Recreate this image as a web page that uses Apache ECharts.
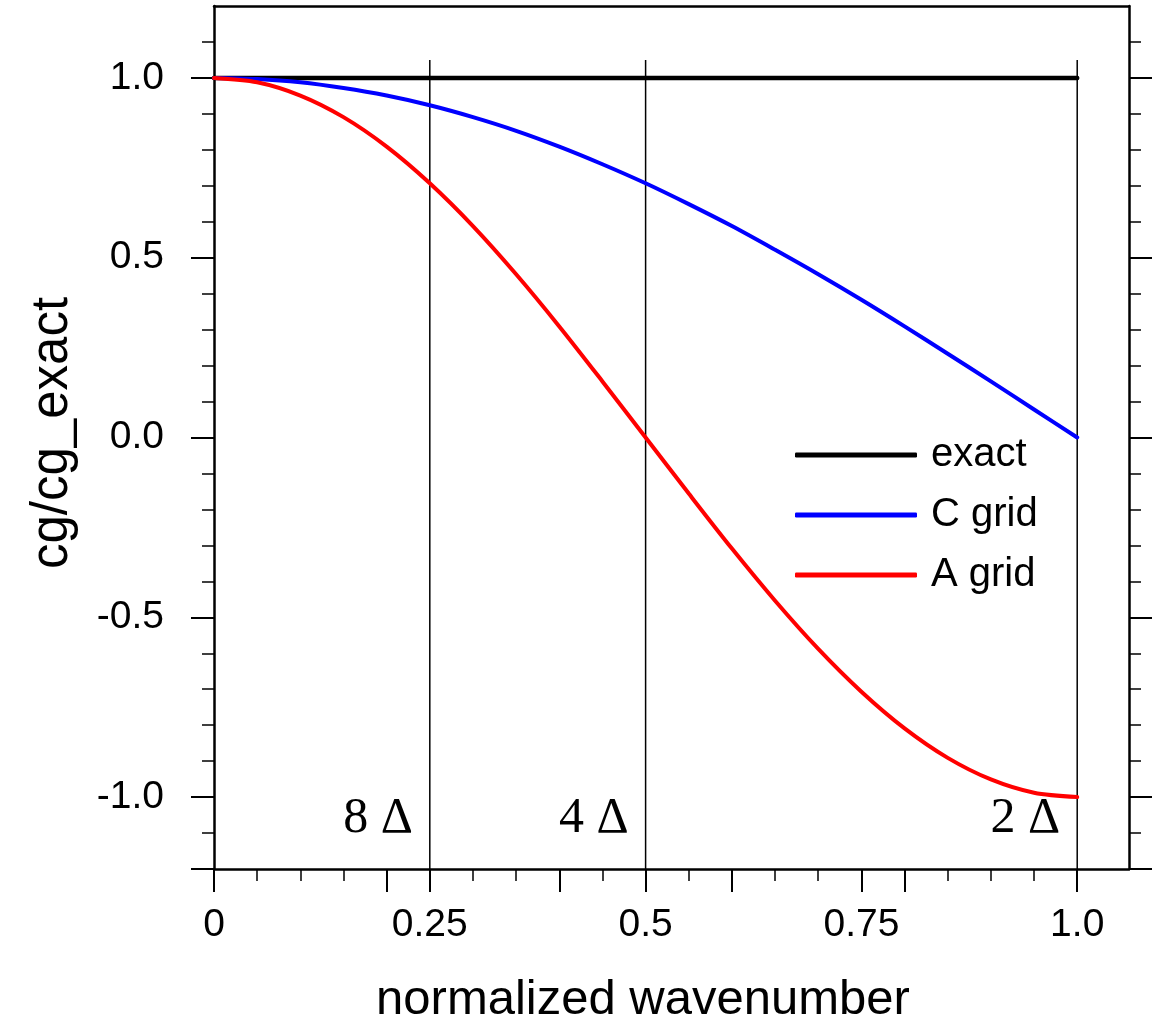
<!DOCTYPE html>
<html>
<head>
<meta charset="utf-8">
<title>Group velocity ratio</title>
<script src="https://cdn.jsdelivr.net/npm/echarts@6/dist/echarts.min.js"></script>
<style>
  html, body { margin: 0; padding: 0; background: #ffffff; }
  #chart { width: 1165px; height: 1026px; }
</style>
</head>
<body>
<div id="chart"></div>
<script>
// normalized wavenumber samples
const wavenumber = [0, 0.05, 0.10, 0.15, 0.20, 0.25, 0.30, 0.35, 0.40, 0.45, 0.50,
                    0.55, 0.60, 0.65, 0.70, 0.75, 0.80, 0.85, 0.90, 0.95, 1.00];
// cg / cg_exact for each scheme
const exactRatio = [1, 1, 1, 1, 1, 1, 1, 1, 1, 1, 1, 1, 1, 1, 1, 1, 1, 1, 1, 1, 1];
const cGridRatio = [1.000, 0.997, 0.988, 0.972, 0.951, 0.924, 0.891, 0.853, 0.809, 0.760, 0.707,
                    0.649, 0.588, 0.522, 0.454, 0.383, 0.309, 0.233, 0.156, 0.078, 0.000];
const aGridRatio = [1.000, 0.988, 0.951, 0.891, 0.809, 0.707, 0.588, 0.454, 0.309, 0.156, 0.000,
                    -0.156, -0.309, -0.454, -0.588, -0.707, -0.809, -0.891, -0.951, -0.988, -1.000];

const seriesNames = ['exact', 'C grid', 'A grid'];

// axis ticks and labels
const xTickValues = [0, 0.25, 0.5, 0.75, 1.0];
const xTickText = ['0', '0.25', '0.5', '0.75', '1.0'];
const xMajorTicks = [0, 0.2, 0.25, 0.4, 0.5, 0.6, 0.75, 0.8, 1.0];
const xMinorTicks = [0.05, 0.1, 0.15, 0.3, 0.35, 0.45, 0.55, 0.65, 0.7, 0.85, 0.9, 0.95];
const yTickValues = [-1.0, -0.5, 0.0, 0.5, 1.0];
const yMajorTicks = [-1.2, -1.0, -0.5, 0.0, 0.5, 1.0];
const yMinorTicks = [-1.1, -0.9, -0.8, -0.7, -0.6, -0.4, -0.3, -0.2, -0.1,
                     0.1, 0.2, 0.3, 0.4, 0.6, 0.7, 0.8, 0.9, 1.1];

// grid-scale reference wavelengths
const markerX = [0.25, 0.5, 1.0];
const markerLabels = ['8 Δ', '4 Δ', '2 Δ'];
const markerTop = 1.05;
const markerLabelY = -1.06;

const xMin = 0, xMax = 1.06, yMin = -1.2, yMax = 1.2;

const sans = '"Liberation Sans", Arial, Helvetica, sans-serif';
const serif = '"Liberation Serif", "Times New Roman", serif';

function xAxisDef(opts) {
  return Object.assign({
    type: 'value', min: xMin, max: xMax, gridIndex: 0,
    splitLine: { show: false },
    axisLine: { show: false, onZero: false },
    axisTick: { show: false },
    axisLabel: { show: false }
  }, opts);
}
function yAxisDef(opts) {
  return Object.assign({
    type: 'value', min: yMin, max: yMax, gridIndex: 0,
    splitLine: { show: false },
    axisLine: { show: false, onZero: false },
    axisTick: { show: false },
    axisLabel: { show: false }
  }, opts);
}

const chart = echarts.init(document.getElementById('chart'), null, { renderer: 'canvas' });

const curveSeries = [
  { name: seriesNames[0], data: exactRatio, color: '#000000', width: 4.5 },
  { name: seriesNames[1], data: cGridRatio, color: '#0000ff', width: 4 },
  { name: seriesNames[2], data: aGridRatio, color: '#ff0000', width: 4 }
].map(s => ({
  type: 'line',
  name: s.name,
  xAxisIndex: 0, yAxisIndex: 0,
  data: wavenumber.map((x, i) => [x, s.data[i]]),
  smooth: 0.3,
  showSymbol: false,
  symbol: 'none',
  lineStyle: { color: s.color, width: s.width, cap: 'round' },
  itemStyle: { color: s.color },
  emphasis: { disabled: true },
  z: 3
}));

const markerLineSeries = markerX.map(x => ({
  type: 'line',
  name: 'marker',
  xAxisIndex: 0, yAxisIndex: 0,
  data: [[x, yMin], [x, markerTop]],
  showSymbol: false,
  symbol: 'none',
  silent: true,
  lineStyle: { color: '#000000', width: 1.5 },
  emphasis: { disabled: true },
  z: 2
}));

const markerLabelSeries = {
  type: 'scatter',
  name: 'markerLabels',
  xAxisIndex: 0, yAxisIndex: 0,
  symbolSize: 0,
  silent: true,
  itemStyle: { opacity: 1 },
  data: markerX.map((x, i) => [x, markerLabelY, markerLabels[i]]),
  label: {
    show: true,
    position: 'left',
    distance: 17,
    formatter: p => p.data[2],
    fontFamily: serif,
    fontSize: 50,
    color: '#000000',
    opacity: 1
  },
  emphasis: { disabled: true },
  z: 4
};

chart.setOption({
  backgroundColor: '#ffffff',
  animation: false,
  grid: {
    left: 214, top: 6, width: 915, height: 863,
    containLabel: false,
    outerBoundsMode: 'none',
    show: false
  },
  legend: {
    data: seriesNames,
    orient: 'vertical',
    left: 790,
    top: 430,
    icon: 'roundRect',
    itemWidth: 122,
    itemHeight: 5,
    itemGap: 20,
    selectedMode: false,
    textStyle: {
      fontFamily: sans,
      fontSize: 40,
      color: '#000000',
      lineHeight: 40,
      padding: [0, 0, 0, 9]
    }
  },
  xAxis: [
    // bottom axis: line, major ticks and labels
    xAxisDef({
      position: 'bottom',
      axisLine: { show: true, onZero: false, lineStyle: { color: '#000000', width: 2.5 } },
      axisTick: { show: true, inside: false, length: 23, customValues: xMajorTicks,
                  lineStyle: { color: '#000000', width: 2 } },
      axisLabel: {
        show: true, customValues: xTickValues, margin: 37,
        fontFamily: sans, fontSize: 39, color: '#000000',
        formatter: v => {
          const i = xTickValues.findIndex(t => Math.abs(t - v) < 1e-9);
          return i >= 0 ? xTickText[i] : '';
        }
      }
    }),
    // bottom axis minor ticks
    xAxisDef({
      position: 'bottom',
      axisTick: { show: true, inside: false, length: 12, customValues: xMinorTicks,
                  lineStyle: { color: '#000000', width: 1.5 } }
    }),
    // top border
    xAxisDef({
      position: 'top',
      axisLine: { show: true, onZero: false, lineStyle: { color: '#000000', width: 2.5 } }
    })
  ],
  yAxis: [
    // left axis: line, major ticks and labels
    yAxisDef({
      position: 'left',
      axisLine: { show: true, onZero: false, lineStyle: { color: '#000000', width: 2.5 } },
      axisTick: { show: true, inside: false, length: 23, customValues: yMajorTicks,
                  lineStyle: { color: '#000000', width: 2 } },
      axisLabel: {
        show: true, customValues: yTickValues, margin: 50,
        fontFamily: sans, fontSize: 39, color: '#000000',
        formatter: v => v.toFixed(1)
      }
    }),
    // left minor ticks
    yAxisDef({
      position: 'left',
      axisTick: { show: true, inside: false, length: 12, customValues: yMinorTicks,
                  lineStyle: { color: '#000000', width: 1.5 } }
    }),
    // right axis: line and major ticks
    yAxisDef({
      position: 'right',
      axisLine: { show: true, onZero: false, lineStyle: { color: '#000000', width: 2.5 } },
      axisTick: { show: true, inside: false, length: 23, customValues: yMajorTicks,
                  lineStyle: { color: '#000000', width: 2 } }
    }),
    // right minor ticks
    yAxisDef({
      position: 'right',
      axisTick: { show: true, inside: false, length: 12, customValues: yMinorTicks,
                  lineStyle: { color: '#000000', width: 1.5 } }
    })
  ],
  graphic: [
    {
      type: 'text',
      x: 643, y: 1000,
      style: {
        text: 'normalized wavenumber',
        fontFamily: sans, fontSize: 49, fill: '#000000',
        textAlign: 'center', textVerticalAlign: 'middle'
      }
    },
    {
      type: 'text',
      x: 53, y: 433,
      rotation: Math.PI / 2,
      style: {
        text: 'cg/cg_exact',
        fontFamily: sans, fontSize: 51, fill: '#000000',
        textAlign: 'center', textVerticalAlign: 'middle'
      }
    }
  ],
  series: [...markerLineSeries, ...curveSeries, markerLabelSeries]
});
</script>
</body>
</html>
